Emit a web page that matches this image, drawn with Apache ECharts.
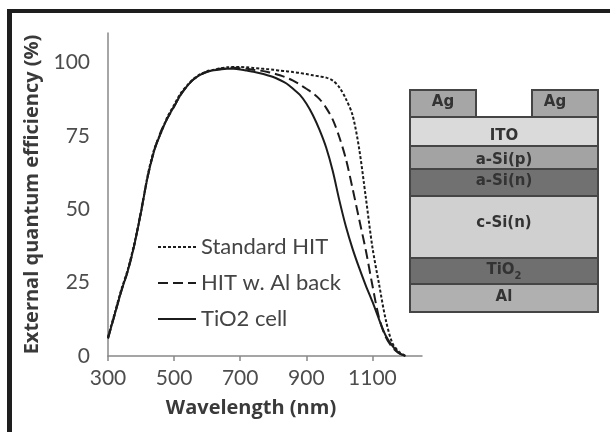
<!DOCTYPE html>
<html>
<head>
<meta charset="utf-8">
<script src="https://cdn.jsdelivr.net/npm/echarts@6/dist/echarts.min.js"></script>
<style>
  html, body { margin: 0; padding: 0; background: #fff; }
  #eqe_chart { width: 610px; height: 432px; }
</style>
</head>
<body>
<div id="eqe_chart"></div>
<script>
// wavelength in nm, EQE in %
var wavelength = [300, 320, 340, 360, 380, 400, 420, 440, 460, 480,
                  500, 520, 540, 560, 580, 600, 620, 640, 660, 680,
                  700, 720, 740, 760, 780, 800, 820, 840, 860, 880,
                  900, 920, 940, 960, 980, 1000, 1020, 1040, 1060, 1080,
                  1100, 1120, 1140, 1160, 1180, 1200];

var standardHIT = [6.5, 14.5, 22.5, 29.5, 38.5, 49, 61.5, 70.5, 76, 81.5,
                   85.5, 89.5, 92.2, 94.5, 96, 97, 97.5, 98, 98.3, 98.4,
                   98.4, 98.3, 98.1, 97.9, 97.7, 97.5, 97.2, 97, 96.7, 96.4,
                   96, 95.6, 95.2, 94.8, 93.8, 91.5, 87.5, 82, 70.5, 54,
                   37, 24.5, 12.5, 4.5, 1.5, 0];

var hitAlBack = [6, 14, 22, 29, 38, 49.5, 61, 70, 76.5, 81,
                 85, 89, 92, 94.3, 95.8, 96.8, 97.4, 97.8, 98, 98.2,
                 98, 97.8, 97.5, 97.2, 96.8, 96.3, 95.6, 94.8, 93.8, 92.5,
                 91, 89.5, 87.5, 84.5, 80.5, 74.5, 67, 57, 46.5, 36,
                 24, 13, 6.5, 3, 1, 0];

var tio2Cell = [6, 14, 22, 29, 38, 49, 61, 70, 76, 81,
                85, 89, 92, 94.3, 95.8, 96.8, 97.3, 97.6, 97.8, 97.8,
                97.6, 97.2, 96.8, 96.3, 95.7, 95, 94, 92.8, 91, 89,
                86, 82, 77, 71, 63, 53, 44, 36.5, 30, 24,
                18.5, 12.5, 7, 3.5, 1, 0];

var seriesNames = ['Standard HIT', 'HIT w. Al back', 'TiO2 cell'];
var xTicks = [300, 500, 700, 900, 1100];
var yTicks = [0, 25, 50, 75, 100];

// layer stack drawn to the right of the plot
var layerNames = ['ITO', 'a-Si(p)', 'a-Si(n)', 'c-Si(n)', 'TiO{sub|2}', 'Al'];

function pairs(ys) {
    var out = [];
    for (var i = 0; i < ys.length; i++) {
        out.push([wavelength[i], ys[i]]);
    }
    return out;
}

var lineColor = '#1c1c1c';
var fontName = 'Lato, "Open Sans", sans-serif';
var titleFont = '"Open Sans", Lato, sans-serif';

var myChart = echarts.init(document.getElementById('eqe_chart'), null, { renderer: 'canvas' });

// diagram geometry
var bx = 410, bw = 188, border = '#454545';
var layerBoxes = [
    { y: 117, h: 29, fill: '#dadada', ty: 136 },
    { y: 146, h: 23, fill: '#a3a3a3', ty: 160 },
    { y: 169, h: 27, fill: '#717171', ty: 181 },
    { y: 196, h: 62, fill: '#d0d0d0', ty: 223 },
    { y: 258, h: 26, fill: '#6f6f6f', ty: 270 },
    { y: 284, h: 28, fill: '#b0b0b0', ty: 297 }
];
var boxFont = 'bold 15px "DejaVu Sans", sans-serif';

var graphics = [
    // picture frame (top + left bars)
    { type: 'rect', shape: { x: 7, y: 9, width: 603, height: 4 }, style: { fill: '#1e1e1e' }, z: 10 },
    { type: 'rect', shape: { x: 7, y: 9, width: 5, height: 423 }, style: { fill: '#1e1e1e' }, z: 10 },
    // Ag contacts
    { type: 'rect', shape: { x: bx, y: 90, width: 66, height: 27 }, style: { fill: '#a6a6a6', stroke: border, lineWidth: 2 } },
    { type: 'rect', shape: { x: 532, y: 90, width: 66, height: 27 }, style: { fill: '#a6a6a6', stroke: border, lineWidth: 2 } },
    { type: 'text', style: { text: 'Ag', x: 443, y: 102, align: 'center', verticalAlign: 'middle', font: boxFont, fill: '#333' }, z: 5 },
    { type: 'text', style: { text: 'Ag', x: 555, y: 102, align: 'center', verticalAlign: 'middle', font: boxFont, fill: '#333' }, z: 5 }
];
layerBoxes.forEach(function (b, i) {
    graphics.push({ type: 'rect', shape: { x: bx, y: b.y, width: bw, height: b.h },
        style: { fill: b.fill, stroke: border, lineWidth: 2 } });
    graphics.push({ type: 'text', z: 5, style: {
        text: layerNames[i], x: bx + bw / 2, y: b.ty, align: 'center', verticalAlign: 'middle',
        font: boxFont, fill: '#333',
        rich: { sub: { font: 'bold 10px "DejaVu Sans", sans-serif', fill: '#333', padding: [12, 0, 0, 0] } }
    } });
});

option = {
    backgroundColor: '#fff',
    animation: false,
    textStyle: { fontFamily: fontName },
    grid: { left: 108, top: 33, right: 188, bottom: 76, containLabel: false },
    legend: {
        orient: 'vertical',
        left: 157,
        top: 236,
        padding: 0,
        itemWidth: 38,
        itemHeight: 14,
        itemGap: 14,
        itemStyle: { opacity: 0 },
        textStyle: { fontSize: 22, color: '#444', fontFamily: fontName },
        data: seriesNames
    },
    xAxis: {
        type: 'value',
        min: 300,
        max: 1250,
        name: 'Wavelength (nm)',
        nameLocation: 'middle',
        nameGap: 42,
        nameTextStyle: { fontSize: 20, fontWeight: 'bold', color: '#3a3a3a', fontFamily: titleFont,
            padding: [0, 28, 0, 0] },
        axisLine: { lineStyle: { color: '#888', width: 1.5 } },
        axisTick: { show: true, length: 5, customValues: xTicks, lineStyle: { color: '#888', width: 1.5 } },
        axisLabel: { customValues: xTicks, fontSize: 21, color: '#4d4d4d', margin: 12,
            formatter: function (v) { return String(v); } },
        splitLine: { show: false }
    },
    yAxis: {
        type: 'value',
        min: 0,
        max: 110,
        name: 'External quantum efficiency (%)',
        nameLocation: 'middle',
        nameGap: 62,
        nameTextStyle: { fontSize: 20, fontWeight: 'bold', color: '#3a3a3a', fontFamily: titleFont },
        axisLine: { show: true, lineStyle: { color: '#888', width: 1.5 } },
        axisTick: { show: false },
        axisLabel: { customValues: yTicks, fontSize: 21, color: '#4d4d4d', margin: 18 },
        splitLine: { show: false }
    },
    series: [{
        name: seriesNames[0],
        type: 'line',
        symbol: 'none',
        smooth: 0.3,
        data: pairs(standardHIT),
        lineStyle: { color: lineColor, width: 2, type: [3, 2] },
        itemStyle: { color: lineColor }
    }, {
        name: seriesNames[1],
        type: 'line',
        symbol: 'none',
        smooth: 0.3,
        data: pairs(hitAlBack),
        lineStyle: { color: lineColor, width: 2, type: [10, 5] },
        itemStyle: { color: lineColor }
    }, {
        name: seriesNames[2],
        type: 'line',
        symbol: 'none',
        smooth: 0.3,
        data: pairs(tio2Cell),
        lineStyle: { color: lineColor, width: 2 },
        itemStyle: { color: lineColor }
    }],
    graphic: graphics
};
myChart.setOption(option);
</script>
</body>
</html>
